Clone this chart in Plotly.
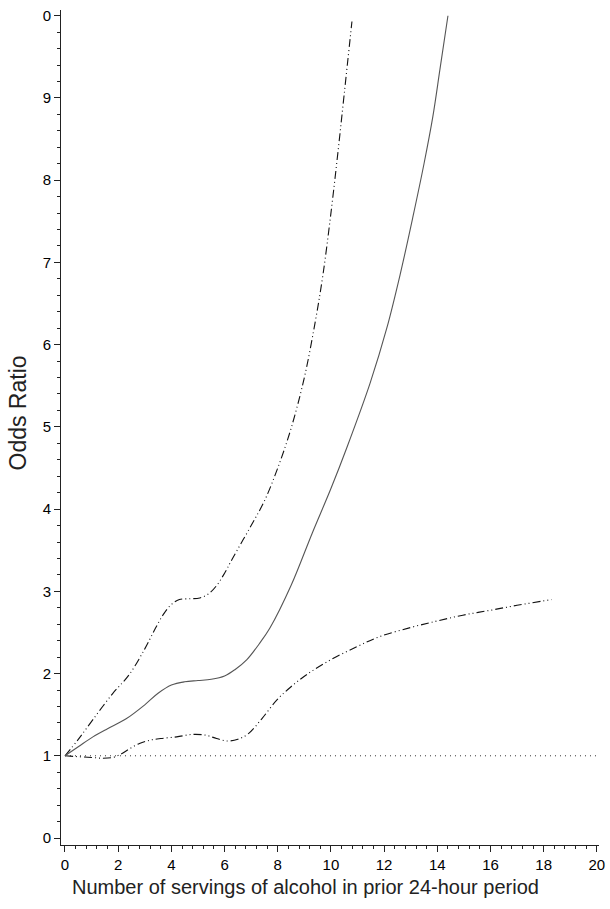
import plotly.graph_objects as go

# Odds ratio estimate (solid)
or_x = [0, 0.5, 1.05, 1.6, 2.3, 3.0, 3.5, 4.0, 4.5, 5.0, 5.5, 6.0, 6.4, 6.84, 7.3, 7.7,
        8.5, 9.3, 10.0, 10.6, 11.47, 12.1, 12.6, 13.08, 13.5, 13.83, 14.1, 14.4]
or_y = [1.0, 1.11, 1.23, 1.33, 1.45, 1.62, 1.76, 1.86, 1.9, 1.915, 1.93, 1.97, 2.05, 2.17, 2.36, 2.55,
        3.07, 3.71, 4.25, 4.75, 5.53, 6.2, 6.85, 7.55, 8.2, 8.77, 9.35, 10.0]

# Upper confidence limit (dash-dot-dot)
upper_x = [0, 0.5, 1.05, 1.8, 2.4, 3.0, 3.4, 3.7, 4.0, 4.3, 4.7, 5.07, 5.4, 5.7, 6.0, 6.3,
           7.0, 7.5, 8.0, 8.5, 9.0, 9.4, 9.7, 10.0, 10.26, 10.5, 10.79]
upper_y = [1.0, 1.2, 1.44, 1.76, 1.98, 2.3, 2.55, 2.72, 2.84, 2.9, 2.91, 2.92, 2.97, 3.07, 3.22, 3.4,
           3.8, 4.1, 4.5, 4.98, 5.6, 6.26, 6.85, 7.6, 8.33, 9.05, 9.93]

# Lower confidence limit (dash-dot-dot)
lower_x = [0, 0.45, 1.0, 1.43, 1.8, 2.1, 2.4, 2.8, 3.2, 3.6, 4.2, 4.8, 5.3, 5.7, 6.1, 6.5,
           6.9, 7.4, 7.97, 8.5, 9.1, 10.0, 11.0, 11.84, 13.0, 14.0, 14.96, 16.0, 17.0, 18.3]
lower_y = [1.0, 0.99, 0.98, 0.97, 0.98, 1.02, 1.08, 1.15, 1.19, 1.21, 1.23, 1.26, 1.25, 1.21, 1.18, 1.2,
           1.27, 1.45, 1.68, 1.84, 1.99, 2.17, 2.33, 2.45, 2.56, 2.64, 2.71, 2.77, 2.83, 2.9]

# Reference line at OR = 1
ref_x = [0, 20]
ref_y = [1, 1]

x_ticks = [0, 2, 4, 6, 8, 10, 12, 14, 16, 18, 20]
x_ticktext = ["0", "2", "4", "6", "8", "10", "12", "14", "16", "18", "20"]
y_ticks = [0, 1, 2, 3, 4, 5, 6, 7, 8, 9, 10]
y_ticktext = ["0", "1", "2", "3", "4", "5", "6", "7", "8", "9", "0"]

x_title = "Number of servings of alcohol in prior 24-hour period"
y_title = "Odds Ratio"

FONT = "Liberation Sans, Arial, sans-serif"
ddd = "8px,3px,1px,3px,1px,3px"

fig = go.Figure()
fig.add_trace(go.Scatter(x=ref_x, y=ref_y, mode="lines",
                         line=dict(color="#333333", width=1, dash="1px,4px"),
                         hoverinfo="skip"))
fig.add_trace(go.Scatter(x=upper_x, y=upper_y, mode="lines", line_shape="spline",
                         line=dict(color="#111111", width=1.1, dash=ddd, smoothing=1.0)))
fig.add_trace(go.Scatter(x=lower_x, y=lower_y, mode="lines", line_shape="spline",
                         line=dict(color="#111111", width=1.1, dash=ddd, smoothing=1.0)))
fig.add_trace(go.Scatter(x=or_x, y=or_y, mode="lines", line_shape="spline",
                         line=dict(color="#555555", width=1.1, smoothing=1.0)))

fig.update_layout(
    width=610, height=909,
    margin=dict(l=61, r=11, t=10, b=64),
    paper_bgcolor="white", plot_bgcolor="white",
    showlegend=False,
    font=dict(family=FONT, color="#000000", size=15),
)
fig.update_xaxes(
    range=[-0.15, 20.08], showgrid=False, zeroline=False,
    showline=True, linecolor="#222222", linewidth=1,
    tickmode="array", tickvals=x_ticks, ticktext=x_ticktext,
    ticks="outside", ticklen=6, tickcolor="#222222",
    tickfont=dict(size=15, family=FONT),
    minor=dict(tickmode="linear", tick0=0, dtick=0.4, ticks="outside", ticklen=3, tickcolor="#222222"),
    automargin=False,
)
fig.update_yaxes(
    range=[-0.085, 10.07], showgrid=False, zeroline=False,
    showline=True, linecolor="#222222", linewidth=1,
    tickmode="array", tickvals=y_ticks, ticktext=y_ticktext,
    ticks="outside", ticklen=6, tickcolor="#222222",
    tickfont=dict(size=15, family=FONT),
    minor=dict(tickmode="linear", tick0=0, dtick=0.2, ticks="outside", ticklen=3, tickcolor="#222222"),
    automargin=False,
)

# Axis titles as annotations (positioned as in the reference)
fig.add_annotation(text=x_title, xref="paper", yref="paper", x=0.455, y=0,
                   yshift=-42, xanchor="center", yanchor="middle", showarrow=False,
                   font=dict(size=20, family=FONT, color="#222222"))
fig.add_annotation(text=y_title, xref="paper", yref="paper", x=0, y=0.5,
                   xshift=-44, yshift=14, textangle=-90, xanchor="center", yanchor="middle",
                   showarrow=False, font=dict(size=23, family=FONT, color="#222222"))

fig.write_html("out.html", config={"displayModeBar": False},
               post_script="document.body.style.margin='0px';document.body.style.padding='0px';")
